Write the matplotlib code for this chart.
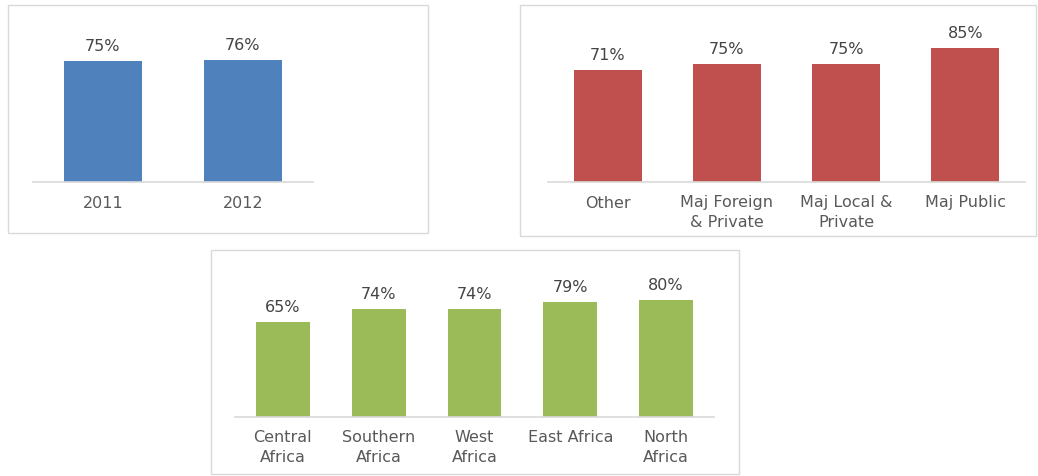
import matplotlib
matplotlib.use("Agg")
import matplotlib.pyplot as plt
from matplotlib.patches import Rectangle

years = ["2011", "2012"]
year_pct = [75, 76]

owners = ["Other", "Maj Foreign\n& Private", "Maj Local &\nPrivate", "Maj Public"]
owner_pct = [71, 75, 75, 85]

regions = ["Central\nAfrica", "Southern\nAfrica", "West\nAfrica", "East Africa", "North\nAfrica"]
region_pct = [65, 74, 74, 79, 80]

W, H = 1038, 477
fig = plt.figure(figsize=(W / 100, H / 100), dpi=100)
fig.patch.set_facecolor("white")

text_col = "#595959"
grid_col = "#d9d9d9"


def px_axes(x0, x1, y_base, y_top):
    # pixel box (image coords, y down) -> figure fraction axes
    return fig.add_axes([x0 / W, (H - y_base) / H, (x1 - x0) / W, (y_base - y_top) / H])


def frame(x0, y0, x1, y1):
    fig.patches.append(Rectangle((x0 / W, (H - y1) / H), (x1 - x0) / W, (y1 - y0) / H,
                                 transform=fig.transFigure, fill=False,
                                 edgecolor=grid_col, linewidth=1.0))


def bar_panel(ax, cats, vals, color, width, ymax):
    xs = range(len(cats))
    bars = ax.bar(xs, vals, width=width, color=color, zorder=2)
    ax.set_xlim(-0.5, len(cats) - 0.5)
    ax.set_ylim(0, ymax)
    for b, v in zip(bars, vals):
        ax.annotate(f"{v}%", (b.get_x() + b.get_width() / 2, v),
                    xytext=(0, 8), textcoords="offset pixels",
                    ha="center", va="bottom", fontsize=11.5, color="#444444")
    ax.set_xticks(list(xs))
    ax.set_xticklabels(cats, fontsize=11.5, color=text_col, linespacing=1.35)
    ax.tick_params(axis="x", length=0, pad=9)
    ax.set_yticks([])
    for s in ["top", "left", "right"]:
        ax.spines[s].set_visible(False)
    ax.spines["bottom"].set_color(grid_col)
    ax.spines["bottom"].set_linewidth(1.2)
    ax.patch.set_alpha(0)


frame(8, 6, 428, 234)
frame(520, 6, 1036, 237)
frame(211, 251, 739, 475)

ax1 = px_axes(33, 313, 183, 20)
bar_panel(ax1, years, year_pct, "#4f81bd", 0.56, 163 / 1.61)

ax2 = px_axes(548, 1025, 183, 20)
bar_panel(ax2, owners, owner_pct, "#c0504d", 0.57, 163 / 1.577)

ax3 = px_axes(235, 714, 418, 270)
bar_panel(ax3, regions, region_pct, "#9bbb59", 0.56, 148 / 1.46)

fig.savefig("out.png", dpi=100, facecolor="white")
